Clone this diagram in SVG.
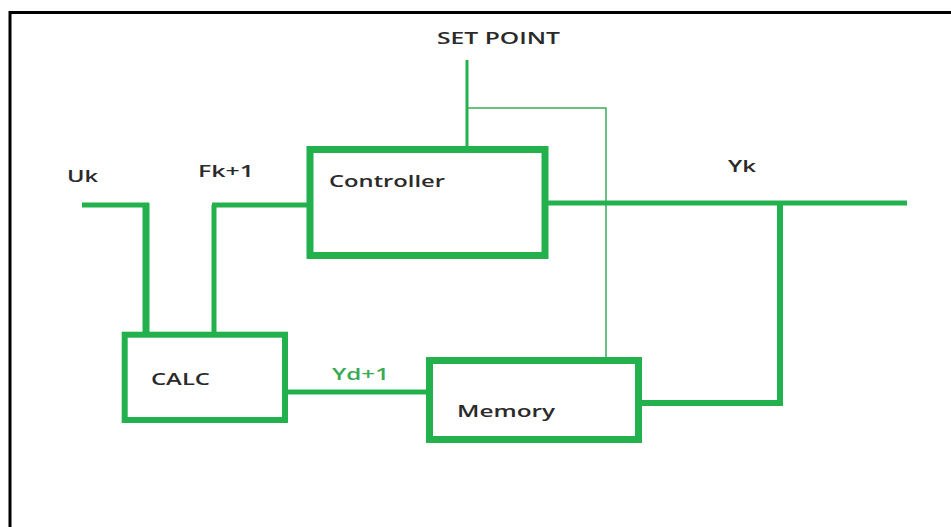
<svg xmlns="http://www.w3.org/2000/svg" width="951" height="527" viewBox="0 0 951 527">
<style>
.bg{fill:#ffffff}
.frame{fill:none;stroke:#000;stroke-width:3}
.box{fill:#ffffff;stroke:#22b14c}
.wire{fill:none;stroke:#22b14c;stroke-linecap:butt}
.thin{fill:none;stroke:#3aaa5a;stroke-width:1.5}
.lbl{font-family:"Open Sans","Noto Sans",sans-serif;font-size:17px;font-weight:600;fill:#2a2a2a}
.glbl{font-family:"Open Sans","Noto Sans",sans-serif;font-size:17px;font-weight:600;fill:#3aaa55}
</style>
<rect class="bg" x="0" y="0" width="951" height="527"/>
<path class="frame" d="M10,527 V12.5 H951"/>
<g id="connectors">
  <path class="wire" style="stroke-width:5" d="M82,205 H149"/>
  <path class="wire" style="stroke-width:7" d="M146,203 V332"/>
  <path class="wire" style="stroke-width:5" d="M214,332 V205"/>
  <path class="wire" style="stroke-width:5" d="M212,205 H308"/>
  <path class="wire" style="stroke-width:3" d="M467,60 V147"/>
  <path class="thin" d="M467,108 H606 V357"/>
  <path class="wire" style="stroke-width:5" d="M545,203 H907"/>
  <path class="wire" style="stroke-width:6" d="M780,201 V406"/>
  <path class="wire" style="stroke-width:6" d="M640,403 H783"/>
  <path class="wire" style="stroke-width:5" d="M286,392 H428"/>
</g>
<g id="setpoint-label"><text class="lbl" x="437" y="44" textLength="123" lengthAdjust="spacingAndGlyphs">SET POINT</text></g>
<g id="uk-label"><text class="lbl" x="67" y="182" textLength="31" lengthAdjust="spacingAndGlyphs">Uk</text></g>
<g id="fk-label"><text class="lbl" x="198" y="177" textLength="56" lengthAdjust="spacingAndGlyphs">Fk+1</text></g>
<g id="yk-label"><text class="lbl" x="728" y="172" textLength="28" lengthAdjust="spacingAndGlyphs">Yk</text></g>
<g id="yd-label"><text class="glbl" x="332" y="380" textLength="57" lengthAdjust="spacingAndGlyphs">Yd+1</text></g>
<g id="controller">
  <rect class="box" style="stroke-width:7" x="310" y="149.5" width="235" height="106"/>
  <text class="lbl" x="329" y="187" textLength="116" lengthAdjust="spacingAndGlyphs">Controller</text>
</g>
<g id="calc">
  <rect class="box" style="stroke-width:6" x="124.7" y="334.7" width="160.3" height="85.3"/>
  <text class="lbl" x="151" y="385" textLength="59" lengthAdjust="spacingAndGlyphs">CALC</text>
</g>
<g id="memory">
  <rect class="box" style="stroke-width:7" x="429.5" y="360.5" width="209" height="79"/>
  <text class="lbl" x="457" y="417" textLength="98" lengthAdjust="spacingAndGlyphs">Memory</text>
</g>
</svg>
